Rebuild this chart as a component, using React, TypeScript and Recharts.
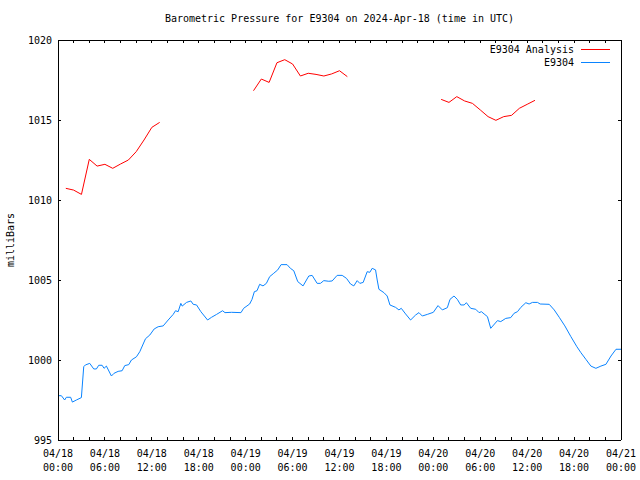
import React from 'react';
import { LineChart, Line, XAxis, YAxis, Legend } from 'recharts';

const FONT = "'DejaVu Sans Mono', 'Liberation Mono', monospace";

const titleText = 'Barometric Pressure for E9304 on 2024-Apr-18 (time in UTC)';
const yAxisTitle = 'milliBars';
const seriesNames = ['E9304 Analysis', 'E9304'];
const seriesColors = ['#ff0000', '#0a84ff'];

// hours since 04/18 00:00 UTC
const xTickHours = [0, 2, 4, 6, 8, 10, 12, 14, 16, 18, 20, 22, 24, 26, 28, 30, 32, 34, 36, 38, 40, 42, 44, 46, 48, 50, 52, 54, 56, 58, 60, 62, 64, 66, 68, 70, 72];
const majorTickHours = [0, 6, 12, 18, 24, 30, 36, 42, 48, 54, 60, 66, 72];
const majorTickDates = ['04/18', '04/18', '04/18', '04/18', '04/19', '04/19', '04/19', '04/19', '04/20', '04/20', '04/20', '04/20', '04/21'];
const majorTickTimes = ['00:00', '06:00', '12:00', '18:00', '00:00', '06:00', '12:00', '18:00', '00:00', '06:00', '12:00', '18:00', '00:00'];
const yTicks = [995, 1000, 1005, 1010, 1015, 1020];

const analysisHours1 = [1, 2, 3, 4, 5, 6, 7, 8, 9, 10, 11, 12, 13];
const analysisPressure1 = [1010.73, 1010.62, 1010.35, 1012.54, 1012.12, 1012.23, 1011.98, 1012.25, 1012.5, 1013.02, 1013.75, 1014.54, 1014.85];
const analysisHours2 = [25, 26, 27, 28, 29, 30, 31, 32, 33, 34, 35, 36, 37];
const analysisPressure2 = [1016.83, 1017.56, 1017.35, 1018.58, 1018.77, 1018.5, 1017.75, 1017.92, 1017.85, 1017.75, 1017.88, 1018.08, 1017.71];
const analysisHours3 = [49, 50, 51, 52, 53, 54, 55, 56, 57, 58, 59, 60, 61];
const analysisPressure3 = [1016.29, 1016.1, 1016.46, 1016.19, 1016.04, 1015.63, 1015.21, 1014.98, 1015.21, 1015.29, 1015.73, 1015.98, 1016.23];

const stationHours = [
  0, 0.43, 0.85, 1.07, 1.62, 1.84, 2.35, 2.99, 3.29, 3.5, 4.06, 4.57, 4.91, 5.21, 5.64, 5.89, 6.19, 6.83, 7.17, 7.69,
  8.2, 8.54, 9.05, 9.39, 10.03, 10.46, 11.19, 11.74, 12.3, 12.81, 13.45, 14.09, 14.73, 15.03, 15.37, 15.71, 15.88, 16.44, 16.99, 17.29,
  17.72, 18.27, 19.13, 19.64, 20.28, 21.05, 21.35, 22.2, 23.4, 23.74, 24.17, 24.51, 24.81, 25.11, 25.45, 25.79, 26.22, 26.65, 27.07, 27.59,
  28.1, 28.53, 29.29, 29.72, 30.15, 30.66, 31.34, 32.07, 32.5, 33.14, 33.56, 33.99, 34.63, 35.06, 35.7, 36.34, 36.9, 37.41, 37.83, 38.26,
  38.6, 39.03, 39.54, 39.88, 40.18, 40.61, 40.82, 41.04, 41.68, 42.1, 42.45, 43.17, 43.6, 43.9, 44.45, 45.09, 45.73, 46.16, 46.59, 47.23,
  48.0, 48.6, 49.15, 49.79, 50.13, 50.64, 51.07, 51.5, 51.93, 52.23, 52.78, 53.42, 53.85, 54.15, 54.49, 54.92, 55.34, 56.2, 56.62, 57.26,
  57.9, 58.33, 58.76, 59.19, 59.83, 60.25, 60.68, 61.32, 61.66, 62.82, 63.46, 64.1, 64.82, 65.59, 66.36, 66.87, 67.51, 68.15, 68.79, 69.43,
  70.07, 70.72, 71.36, 72.0,
];
const stationPressure = [
  997.77, 997.77, 997.5, 997.67, 997.67, 997.37, 997.5, 997.65, 999.58, 999.69, 999.79, 999.44, 999.44, 999.67, 999.67, 999.48, 999.62, 999.0, 999.17, 999.29,
  999.33, 999.65, 999.71, 1000.0, 1000.2, 1000.52, 1001.33, 1001.56, 1001.94, 1002.08, 1002.13, 1002.5, 1002.85, 1003.08, 1003.02, 1003.54, 1003.37, 1003.6, 1003.69, 1003.48,
  1003.44, 1003.02, 1002.5, 1002.67, 1002.85, 1003.08, 1002.96, 1002.98, 1002.96, 1003.23, 1003.38, 1003.5, 1003.79, 1004.27, 1004.33, 1004.73, 1004.63, 1004.79, 1005.21, 1005.42,
  1005.63, 1005.96, 1005.96, 1005.73, 1005.58, 1004.9, 1004.63, 1005.25, 1005.29, 1004.79, 1004.79, 1004.96, 1004.92, 1004.94, 1005.29, 1005.29, 1005.1, 1004.75, 1004.63, 1004.96,
  1004.79, 1004.85, 1005.52, 1005.48, 1005.73, 1005.63, 1005.0, 1004.42, 1004.21, 1004.0, 1003.44, 1003.29, 1003.13, 1003.23, 1002.88, 1002.5, 1002.81, 1002.96, 1002.75, 1002.85,
  1002.98, 1003.4, 1003.13, 1003.27, 1003.79, 1004.0, 1003.79, 1003.44, 1003.44, 1003.58, 1003.23, 1003.17, 1002.96, 1003.02, 1002.88, 1002.71, 1001.98, 1002.46, 1002.4, 1002.6,
  1002.65, 1002.92, 1003.02, 1003.29, 1003.58, 1003.5, 1003.6, 1003.6, 1003.5, 1003.48, 1003.13, 1002.67, 1002.13, 1001.46, 1000.83, 1000.46, 1000.04, 999.62, 999.48, 999.62,
  999.73, 1000.25, 1000.67, 1000.67,
];

const toData = (hours: number[], values: number[]) => hours.map((h, i) => ({ h, p: values[i] }));
const analysisData1 = toData(analysisHours1, analysisPressure1);
const analysisData2 = toData(analysisHours2, analysisPressure2);
const analysisData3 = toData(analysisHours3, analysisPressure3);
const stationData = toData(stationHours, stationPressure);

const TICK_LEN = 3;

const BottomTick = (props: any) => {
  const { x, y, payload } = props;
  const idx = majorTickHours.indexOf(payload.value);
  return (
    <g>
      <line x1={x} x2={x} y1={y} y2={y - TICK_LEN} stroke="#000" shapeRendering="crispEdges" />
      {idx >= 0 && (
        <text x={x} textAnchor="middle" fontFamily={FONT} fontSize={10} fill="#000">
          <tspan x={x} y={y + 17}>{majorTickDates[idx]}</tspan>
          <tspan x={x} y={y + 31}>{majorTickTimes[idx]}</tspan>
        </text>
      )}
    </g>
  );
};

const TopTick = (props: any) => {
  const { x, y } = props;
  return <line x1={x} x2={x} y1={y} y2={y + TICK_LEN} stroke="#000" shapeRendering="crispEdges" />;
};

const LeftTick = (props: any) => {
  const { x, y, payload } = props;
  return (
    <g>
      <line x1={x} x2={x + TICK_LEN} y1={y} y2={y} stroke="#000" shapeRendering="crispEdges" />
      <text x={x - 6} y={y + 4} textAnchor="end" fontFamily={FONT} fontSize={10} fill="#000">
        {payload.value}
      </text>
    </g>
  );
};

const RightTick = (props: any) => {
  const { x, y } = props;
  return <line x1={x} x2={x - TICK_LEN} y1={y} y2={y} stroke="#000" shapeRendering="crispEdges" />;
};

const renderLegend = () => (
  <div style={{ position: 'relative', width: 640, height: 26, fontFamily: FONT, fontSize: 10 }}>
    {seriesNames.map((name, i) => (
      <div key={name} style={{ position: 'absolute', left: 0, top: i * 13, width: 640, height: 13, lineHeight: '13px' }}>
        <span style={{ position: 'absolute', right: 66, top: 0, whiteSpace: 'nowrap', color: '#000' }}>{name}</span>
        <span style={{ position: 'absolute', left: 581, top: 6, width: 29, height: 0, borderTop: `1px solid ${seriesColors[i]}` }} />
      </div>
    ))}
  </div>
);

const axisLine = { stroke: '#000', strokeWidth: 1, shapeRendering: 'crispEdges' };

export default function App() {
  return (
    <div style={{ position: 'absolute', left: 0, top: 0, width: 640, height: 480, background: '#fff', overflow: 'hidden' }}>
      <LineChart width={640} height={480} margin={{ top: 0, right: 0, bottom: 0, left: 0 }}>
        <XAxis
          xAxisId="bottom"
          orientation="bottom"
          type="number"
          dataKey="h"
          domain={[0, 72]}
          ticks={xTickHours}
          interval={0}
          height={40}
          tickSize={0}
          tickMargin={0}
          tickLine={false}
          axisLine={axisLine}
          tick={BottomTick}
          allowDataOverflow
        />
        <XAxis
          xAxisId="top"
          orientation="top"
          type="number"
          dataKey="h"
          domain={[0, 72]}
          ticks={xTickHours}
          interval={0}
          height={40}
          tickSize={0}
          tickMargin={0}
          tickLine={false}
          axisLine={axisLine}
          tick={TopTick}
          allowDataOverflow
        />
        <YAxis
          yAxisId="left"
          orientation="left"
          type="number"
          domain={[995, 1020]}
          ticks={yTicks}
          interval={0}
          width={58}
          tickSize={0}
          tickMargin={0}
          tickLine={false}
          axisLine={axisLine}
          tick={LeftTick}
          allowDataOverflow
        />
        <YAxis
          yAxisId="right"
          orientation="right"
          type="number"
          domain={[995, 1020]}
          ticks={yTicks}
          interval={0}
          width={19}
          tickSize={0}
          tickMargin={0}
          tickLine={false}
          axisLine={axisLine}
          tick={RightTick}
          allowDataOverflow
        />
        <Legend
          layout="vertical"
          align="center"
          verticalAlign="middle"
          content={renderLegend}
          wrapperStyle={{ left: 0, top: 43, width: 640, height: 26 }}
        />
        <Line xAxisId="bottom" yAxisId="left" data={analysisData1} dataKey="p" stroke={seriesColors[0]} strokeWidth={1} dot={false} isAnimationActive={false} legendType="none" />
        <Line xAxisId="bottom" yAxisId="left" data={analysisData2} dataKey="p" stroke={seriesColors[0]} strokeWidth={1} dot={false} isAnimationActive={false} legendType="none" />
        <Line xAxisId="bottom" yAxisId="left" data={analysisData3} dataKey="p" stroke={seriesColors[0]} strokeWidth={1} dot={false} isAnimationActive={false} legendType="none" />
        <Line xAxisId="bottom" yAxisId="left" data={stationData} dataKey="p" stroke={seriesColors[1]} strokeWidth={1} dot={false} isAnimationActive={false} legendType="none" />
      </LineChart>
      <div style={{ position: 'absolute', left: 58, top: 12, width: 563, textAlign: 'center', fontFamily: FONT, fontSize: 10, lineHeight: '14px', whiteSpace: 'nowrap' }}>
        {titleText}
      </div>
      <div style={{ position: 'absolute', left: 11, top: 240, transform: 'translate(-50%, -50%) rotate(-90deg)', fontFamily: FONT, fontSize: 10, lineHeight: '12px', whiteSpace: 'nowrap' }}>
        {yAxisTitle}
      </div>
    </div>
  );
}
